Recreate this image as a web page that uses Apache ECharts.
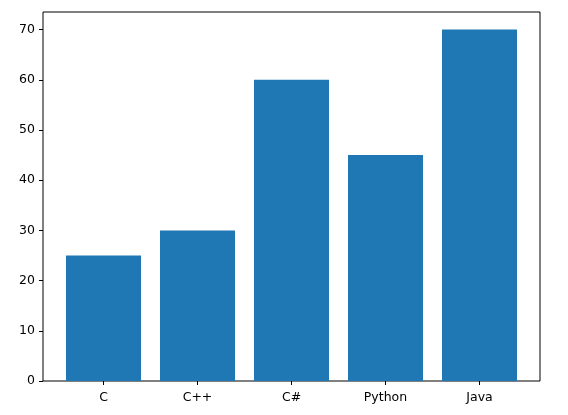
<!DOCTYPE html>
<html>
<head>
<meta charset="utf-8">
<script src="https://cdn.jsdelivr.net/npm/echarts@6/dist/echarts.min.js"></script>
<style>
  html, body { margin: 0; padding: 0; background: #fff; }
  #chart { width: 568px; height: 415px; }
</style>
</head>
<body>
<div id="chart"></div>
<script>
var languages = ['C', 'C++', 'C#', 'Python', 'Java'];
var popularity = [25, 30, 60, 45, 70];
var yTicks = [0, 10, 20, 30, 40, 50, 60, 70];

var FONT = 'DejaVu Sans';
var yMax = 73.5;

var chart = echarts.init(document.getElementById('chart'));

var option = {
    animation: false,
    backgroundColor: '#fff',
    grid: [
        // frame with the y axis
        { left: 43, right: 28, top: 12, bottom: 34, show: true, borderColor: '#000', borderWidth: 1, backgroundColor: 'transparent' },
        // bars, inset by the matplotlib x margins
        { left: 56.5, right: 41.5, top: 12, bottom: 34 }
    ],
    xAxis: [
        { gridIndex: 0, type: 'value', min: 0, max: 1, show: false },
        {
            gridIndex: 1,
            type: 'category',
            data: languages,
            boundaryGap: true,
            axisLine: { show: false },
            axisTick: { show: true, alignWithLabel: true, length: 4, lineStyle: { color: '#000', width: 1 } },
            axisLabel: { color: '#000', fontFamily: FONT, fontSize: 12.5, margin: 10 },
            splitLine: { show: false }
        }
    ],
    yAxis: [
        {
            gridIndex: 0,
            type: 'value',
            min: 0,
            max: yMax,
            interval: 10,
            axisLine: { show: false },
            axisTick: { show: true, length: 4, lineStyle: { color: '#000', width: 1 } },
            axisLabel: {
                color: '#000', fontFamily: FONT, fontSize: 12.5, margin: 8,
                showMaxLabel: false,
                formatter: function (v) { return yTicks.indexOf(v) >= 0 ? String(v) : ''; }
            },
            splitLine: { show: false }
        },
        { gridIndex: 1, type: 'value', min: 0, max: yMax, show: false }
    ],
    series: [{
        type: 'bar',
        xAxisIndex: 1,
        yAxisIndex: 1,
        data: popularity,
        barWidth: 75,
        itemStyle: { color: '#1f77b4' }
    }]
};

chart.setOption(option);
</script>
</body>
</html>
